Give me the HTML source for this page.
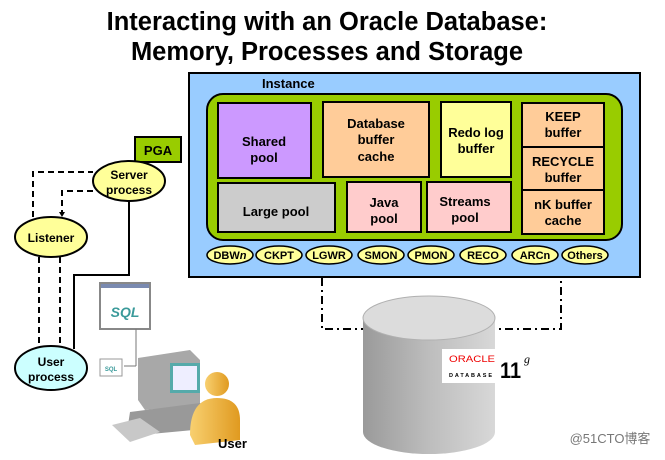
<!DOCTYPE html>
<html><head><style>
body{margin:0;background:#fff;}
svg{display:block;font-family:"Liberation Sans",Arial,sans-serif;font-weight:bold;}
</style></head><body>
<svg width="665" height="460" viewBox="0 0 665 460" xmlns="http://www.w3.org/2000/svg">
<defs>
<linearGradient id="cyl" x1="0" x2="1" y1="0" y2="0">
<stop offset="0" stop-color="#9a9a9a"/><stop offset="0.5" stop-color="#bdbdbd"/><stop offset="1" stop-color="#d8d8d8"/>
</linearGradient>
<linearGradient id="usr" x1="0" x2="1"><stop offset="0" stop-color="#f8d070"/><stop offset="1" stop-color="#e09a20"/></linearGradient>
</defs>
<text x="327" y="30" font-size="25.5" text-anchor="middle">Interacting with an Oracle Database:</text>
<text x="327" y="60" font-size="25.5" text-anchor="middle">Memory, Processes and Storage</text>

<!-- instance -->
<rect x="189" y="73" width="451" height="204" fill="#99ccff" stroke="#000" stroke-width="2"/>
<text x="262" y="88" font-size="13">Instance</text>
<rect x="207" y="94" width="415" height="146" rx="16" fill="#99cc00" stroke="#000" stroke-width="2"/>
<g stroke="#000" stroke-width="2" font-size="13" text-anchor="middle">
<rect x="218" y="103" width="93" height="75" fill="#cc99ff"/>
<rect x="323" y="102" width="106" height="75" fill="#ffcc99"/>
<rect x="441" y="102" width="70" height="75" fill="#ffff99"/>
<rect x="522" y="103" width="82" height="44" fill="#ffcc99"/>
<rect x="522" y="147" width="82" height="43" fill="#ffcc99"/>
<rect x="522" y="190" width="82" height="44" fill="#ffcc99"/>
<rect x="218" y="183" width="117" height="49" fill="#cccccc"/>
<rect x="347" y="182" width="74" height="50" fill="#ffcccc"/>
<rect x="427" y="182" width="84" height="50" fill="#ffcccc"/>
</g>
<g font-size="13" text-anchor="middle">
<text x="264" y="146">Shared</text><text x="264" y="162">pool</text>
<text x="376" y="128">Database</text><text x="376" y="144">buffer</text><text x="376" y="161">cache</text>
<text x="476" y="137">Redo log</text><text x="476" y="153">buffer</text>
<text x="563" y="121">KEEP</text><text x="563" y="137">buffer</text>
<text x="563" y="166">RECYCLE</text><text x="563" y="182">buffer</text>
<text x="563" y="209">nK buffer</text><text x="563" y="225">cache</text>
<text x="276" y="216">Large pool</text>
<text x="384" y="207">Java</text><text x="384" y="223">pool</text>
<text x="465" y="206">Streams</text><text x="465" y="222">pool</text>
</g>
<g stroke="#000" stroke-width="1.5" fill="#ffff99">
<ellipse cx="230" cy="255" rx="23" ry="9"/><ellipse cx="279" cy="255" rx="23" ry="9"/>
<ellipse cx="329" cy="255" rx="23" ry="9"/><ellipse cx="381" cy="255" rx="23" ry="9"/>
<ellipse cx="431" cy="255" rx="23" ry="9"/><ellipse cx="483" cy="255" rx="23" ry="9"/>
<ellipse cx="535" cy="255" rx="23" ry="9"/><ellipse cx="585" cy="255" rx="23" ry="9"/>
</g>
<g font-size="11" text-anchor="middle">
<text x="230" y="259">DBW<tspan font-style="italic">n</tspan></text><text x="279" y="259">CKPT</text>
<text x="329" y="259">LGWR</text><text x="381" y="259">SMON</text><text x="431" y="259">PMON</text>
<text x="483" y="259">RECO</text><text x="535" y="259">ARCn</text><text x="585" y="259">Others</text>
</g>

<!-- dash-dot -->
<polyline points="322,278 322,329 561,329 561,278" fill="none" stroke="#000" stroke-width="2" stroke-dasharray="8,4,2,4"/>

<!-- cylinder -->
<path d="M363,318 L363,432 A66,22 0 0 0 495,432 L495,318 Z" fill="url(#cyl)"/>
<ellipse cx="429" cy="318" rx="66" ry="22" fill="#dcdcdc" stroke="#b0b0b0"/>
<rect x="442" y="349" width="82" height="34" fill="#fff"/>
<text x="449" y="362" font-size="9" fill="#e00" font-weight="normal" textLength="46" lengthAdjust="spacingAndGlyphs">ORACLE</text>
<text x="449" y="377" font-size="5.5" textLength="43" lengthAdjust="spacing">DATABASE</text>
<text x="500" y="378" font-size="22" textLength="21" lengthAdjust="spacingAndGlyphs">11</text>
<text x="524" y="363" font-size="12" font-style="italic" font-family="Liberation Serif,serif" font-weight="normal">g</text>
<text x="610" y="443" font-size="13" text-anchor="middle" fill="#777" font-weight="normal" font-family="Liberation Sans,'Noto Sans CJK SC',sans-serif">@51CTO博客</text>

<!-- left side -->
<rect x="135" y="137" width="46" height="25" fill="#99cc00" stroke="#000" stroke-width="2"/>
<text x="158" y="155" font-size="13" text-anchor="middle">PGA</text>
<g fill="none" stroke="#000" stroke-width="2" stroke-dasharray="6,4">
<polyline points="33,217 33,172 93,172"/>
<polyline points="93,191 62,191 62,212"/>
<line x1="39" y1="257" x2="39" y2="347"/>
<line x1="60" y1="257" x2="60" y2="347"/>
</g>
<path d="M59,212 L65,212 L62,217 Z" fill="#000"/>
<polyline points="74,349 74,275 129,275 129,201" fill="none" stroke="#000" stroke-width="2"/>
<g stroke="#000" stroke-width="2">
<ellipse cx="129" cy="181" rx="36" ry="20" fill="#ffff99"/>
<ellipse cx="51" cy="237" rx="36" ry="20" fill="#ffff99"/>
<ellipse cx="51" cy="368" rx="36" ry="22" fill="#ccffff"/>
</g>
<g font-size="12" text-anchor="middle">
<text x="129" y="179">Server</text><text x="129" y="194">process</text>
<text x="51" y="242">Listener</text>
<text x="51" y="366">User</text><text x="51" y="381">process</text>
</g>

<!-- computer graphic -->
<rect x="100" y="283" width="50" height="46" fill="#fff" stroke="#888" stroke-width="2"/>
<rect x="101" y="284" width="48" height="4" fill="#7a8ab0"/>
<text x="125" y="317" font-size="14" fill="#3a9a9a" text-anchor="middle" font-style="italic">SQL</text>
<line x1="136" y1="329" x2="136" y2="366" stroke="#777"/>
<line x1="136" y1="366" x2="124" y2="366" stroke="#777"/>
<rect x="100" y="359" width="22" height="17" fill="#fff" stroke="#999"/>
<text x="111" y="371" font-size="6" fill="#3a9a9a" text-anchor="middle">SQL</text>
<path d="M138,358 L190,350 L200,360 L200,405 L145,410 L138,400 Z" fill="#a8a8a8"/>
<rect x="170" y="363" width="30" height="30" fill="#5aa" />
<rect x="173" y="366" width="24" height="24" fill="#eef"/>
<path d="M130,412 L200,403 L215,415 L215,428 L140,435 L128,425 Z" fill="#999"/>
<path d="M112,425 L140,418 L160,432 L130,442 Z" fill="#c8c8c8"/>
<circle cx="217" cy="384" r="12" fill="url(#usr)"/>
<path d="M190,435 Q190,398 217,398 Q240,398 240,420 L240,440 L195,445 Z" fill="url(#usr)"/>
<text x="218" y="448" font-size="13">User</text>
</svg>
</body></html>
